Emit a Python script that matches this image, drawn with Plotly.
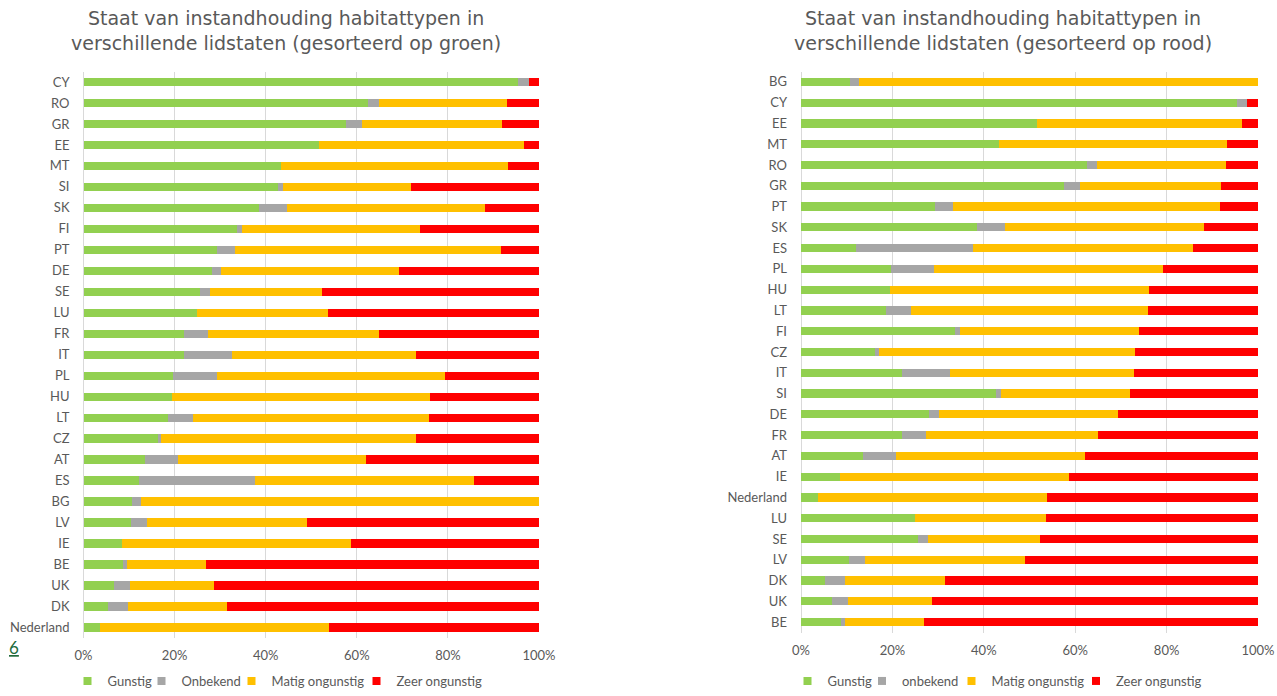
import plotly.graph_objects as go
from plotly.subplots import make_subplots

# ---- data (percentages) ----
countries = ["CY", "RO", "GR", "EE", "MT", "SI", "SK", "FI", "PT", "DE", "SE", "LU", "FR", "IT",
             "PL", "HU", "LT", "CZ", "AT", "ES", "BG", "LV", "IE", "BE", "UK", "DK", "Nederland"]
gunstig = [95.4, 62.5, 57.6, 51.6, 43.3, 42.7, 38.6, 33.8, 29.4, 28.1, 25.5, 25.0, 22.1, 22.1,
           19.7, 19.5, 18.5, 16.3, 13.6, 12.1, 10.7, 10.5, 8.5, 8.7, 6.8, 5.3, 3.7]
onbekend = [2.3, 2.3, 3.5, 0.0, 0.0, 1.0, 6.0, 1.0, 3.8, 2.1, 2.2, 0.0, 5.3, 10.6,
            9.5, 0.0, 5.5, 0.8, 7.2, 25.5, 2.0, 3.4, 0.0, 0.9, 3.5, 4.4, 0.0]
matig = [0.0, 28.1, 30.7, 45.0, 50.0, 28.2, 43.6, 39.1, 58.5, 39.1, 24.7, 28.6, 37.5, 40.2,
         50.1, 56.6, 51.9, 56.0, 41.3, 48.1, 87.3, 35.2, 50.2, 17.3, 18.4, 21.8, 50.1]
zeer = [2.3, 7.1, 8.2, 3.4, 6.7, 28.1, 11.8, 26.1, 8.3, 30.7, 47.6, 46.4, 35.1, 27.1,
        20.7, 23.9, 24.1, 26.9, 37.9, 14.3, 0.0, 50.9, 41.3, 73.1, 71.3, 68.5, 46.2]

order_groen = ["CY", "RO", "GR", "EE", "MT", "SI", "SK", "FI", "PT", "DE", "SE", "LU", "FR", "IT",
               "PL", "HU", "LT", "CZ", "AT", "ES", "BG", "LV", "IE", "BE", "UK", "DK", "Nederland"]
order_rood = ["BG", "CY", "EE", "MT", "RO", "GR", "PT", "SK", "ES", "PL", "HU", "LT", "FI", "CZ",
              "IT", "SI", "DE", "FR", "AT", "IE", "Nederland", "LU", "SE", "LV", "DK", "UK", "BE"]

labels_left = ["Gunstig", "Onbekend", "Matig ongunstig", "Zeer ongunstig"]
labels_right = ["Gunstig", "onbekend", "Matig ongunstig", "Zeer ongunstig"]
title_left = "Staat van instandhouding habitattypen in<br>verschillende lidstaten (gesorteerd op groen)"
title_right = "Staat van instandhouding habitattypen in<br>verschillende lidstaten (gesorteerd op rood)"
x_ticks = [0, 20, 40, 60, 80, 100]
x_ticktext = ["0%", "20%", "40%", "60%", "80%", "100%"]

# ---- styling ----
W, H = 1277, 696
colors = ["#92D050", "#A6A6A6", "#FFC000", "#FF0000"]
TXT = "#595959"
GRID = "#D9D9D9"
FONT = "Lato, 'Open Sans', sans-serif"
TFONT = "'DejaVu Sans', Verdana, sans-serif"

series = [gunstig, onbekend, matig, zeer]
lookup = {c: i for i, c in enumerate(countries)}

fig = make_subplots(rows=1, cols=2)

def px_x(p):
    return p / W

def px_y(p):
    return 1 - p / H

for col, order in ((1, order_groen), (2, order_rood)):
    for s, vals in enumerate(series):
        fig.add_trace(go.Bar(
            y=order,
            x=[vals[lookup[c]] for c in order],
            orientation="h",
            marker=dict(color=colors[s], line=dict(width=0)),
            showlegend=False,
            hovertemplate="%{y}: %{x:.1f}%<extra></extra>",
        ), row=1, col=col)

# legend entries (one legend per item so each can be placed like the reference)
legend_pos_left = [107.5, 181.5, 271.5, 396.5]
legend_pos_right = [827.5, 902.0, 991.5, 1116.0]
legend_layout = {}
k = 1
for labels, positions in ((labels_left, legend_pos_left), (labels_right, legend_pos_right)):
    for s, (lab, tx) in enumerate(zip(labels, positions)):
        name = "legend" if k == 1 else f"legend{k}"
        fig.add_trace(go.Scatter(
            x=[None], y=[None], mode="markers", name=lab,
            marker=dict(symbol="square", size=8, color=colors[s]),
            legend=name, showlegend=True, hoverinfo="skip",
        ), row=1, col=1)
        legend_layout[name] = dict(
            x=px_x(tx - 40), y=0, xanchor="left", yanchor="bottom",
            orientation="h", bgcolor="rgba(0,0,0,0)", borderwidth=0,
            font=dict(family=FONT, size=13, color=TXT),
            itemclick=False, itemdoubleclick=False,
        )
        k += 1

axis_x = dict(range=[0, 100], tickmode="array", tickvals=x_ticks, ticktext=x_ticktext,
              showgrid=True, gridcolor=GRID, gridwidth=1, zeroline=True, zerolinecolor=GRID,
              zerolinewidth=1, showline=False, ticks="", ticklabelstandoff=8,
              tickfont=dict(family=FONT, size=13, color=TXT), fixedrange=True, automargin=False)
axis_y = dict(showgrid=False, zeroline=False, showline=False, ticks="", ticklabelstandoff=13,
              tickfont=dict(family=FONT, size=13, color=TXT), categoryorder="array",
              fixedrange=True, automargin=False)

fig.update_xaxes(**axis_x)
fig.update_yaxes(**axis_y)
fig.update_layout(
    xaxis=dict(domain=[px_x(83.5), px_x(539)]),
    xaxis2=dict(domain=[px_x(801), px_x(1258)]),
    yaxis=dict(domain=[px_y(638), px_y(71.5)], categoryarray=list(reversed(order_groen))),
    yaxis2=dict(domain=[px_y(632.5), px_y(71.5)], categoryarray=list(reversed(order_rood))),
)

fig.update_layout(
    width=W, height=H,
    margin=dict(l=0, r=0, t=0, b=0, autoexpand=False),
    barmode="stack", bargap=0.6,
    plot_bgcolor="white", paper_bgcolor="white",
    font=dict(family=FONT, size=13, color=TXT),
    **legend_layout,
    annotations=[
        dict(text=title_left, x=px_x(286), y=px_y(30.5), xref="paper", yref="paper",
             xanchor="center", yanchor="middle", showarrow=False, align="center",
             font=dict(family=TFONT, size=19, color=TXT)),
        dict(text=title_right, x=px_x(1003), y=px_y(30.5), xref="paper", yref="paper",
             xanchor="center", yanchor="middle", showarrow=False, align="center",
             font=dict(family=TFONT, size=19, color=TXT)),
        dict(text="<u>6</u>", x=px_x(14), y=px_y(647), xref="paper", yref="paper",
             xanchor="center", yanchor="middle", showarrow=False,
             font=dict(family=FONT, size=17, color="#226B3C")),
    ],
)

fig.write_html(
    "out.html",
    config={"displayModeBar": False},
    post_script="document.body.style.margin='0';document.body.style.overflow='hidden';",
)
